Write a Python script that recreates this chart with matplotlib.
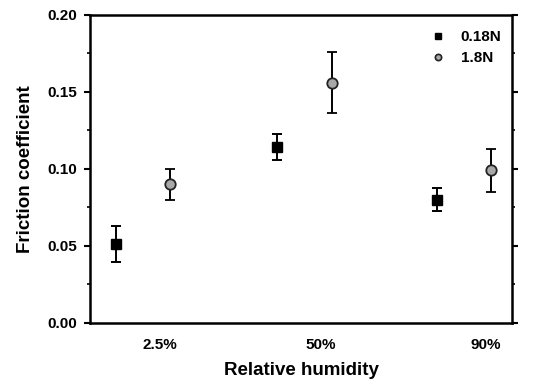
import numpy as np
import matplotlib.pyplot as plt
from matplotlib.ticker import MultipleLocator
from matplotlib.lines import Line2D

plt.rcParams['font.family'] = ['Liberation Sans', 'DejaVu Sans']
plt.rcParams['font.weight'] = 'bold'

humidity = ["2.5%", "50%", "90%"]
x_labels = [1.0, 1.99, 3.01]

# 0.18N series
x_low = [0.73, 1.72, 2.71]
mu_low = [0.051, 0.114, 0.080]
err_low = [0.0117, 0.0085, 0.0073]

# 1.8N series
x_high = [1.06, 2.06, 3.04]
mu_high = [0.090, 0.156, 0.099]
err_high = [0.0101, 0.0197, 0.0137]

fig = plt.figure(figsize=(5.39, 3.83), dpi=100)
ax = fig.add_axes([0.167, 0.157, 0.783, 0.804])

ax.errorbar(x_low, mu_low, yerr=err_low, fmt='s', color='black', ms=7,
            ecolor='black', elinewidth=1.4, capsize=3.8, capthick=1.4)
ax.errorbar(x_high, mu_high, yerr=err_high, fmt='o', mfc='#a8a8a8', mec='#222222',
            mew=1.3, ms=7.5, ecolor='black', elinewidth=1.4, capsize=3.8,
            capthick=1.4)

ax.set_xlim(0.568, 3.17)
ax.set_ylim(0, 0.20)
ax.set_xticks(x_labels)
ax.set_xticklabels(humidity)
ax.tick_params(axis='x', length=0, pad=11, labelsize=11)
ax.yaxis.set_major_locator(MultipleLocator(0.05))
ax.yaxis.set_minor_locator(MultipleLocator(0.025))
ax.yaxis.set_major_formatter(plt.FormatStrFormatter('%.2f'))
ax.tick_params(axis='y', which='major', direction='out', length=4, width=1.5,
               labelsize=11, right=True, pad=5)
ax.tick_params(axis='y', which='minor', direction='out', length=2.5, width=1.2,
               right=True)

for s in ax.spines.values():
    s.set_linewidth(1.8)

ax.set_xlabel("Relative humidity", fontsize=13.5, fontweight='bold', labelpad=7)
ax.set_ylabel("Friction coefficient", fontsize=13.5, fontweight='bold', labelpad=10)

handles = [Line2D([], [], ls='none', marker='s', color='black', ms=4.5),
           Line2D([], [], ls='none', marker='o', mfc='#a8a8a8', mec='#222222',
                  mew=1.2, ms=4.5)]
ax.legend(handles, ["0.18N", "1.8N"], loc='upper right', frameon=False,
          bbox_to_anchor=(1.0, 0.985),
          prop={'size': 11, 'weight': 'bold'}, handlelength=1.0,
          handletextpad=1.0, labelspacing=0.45, borderaxespad=0.3)

fig.savefig("out.png", dpi=100)
